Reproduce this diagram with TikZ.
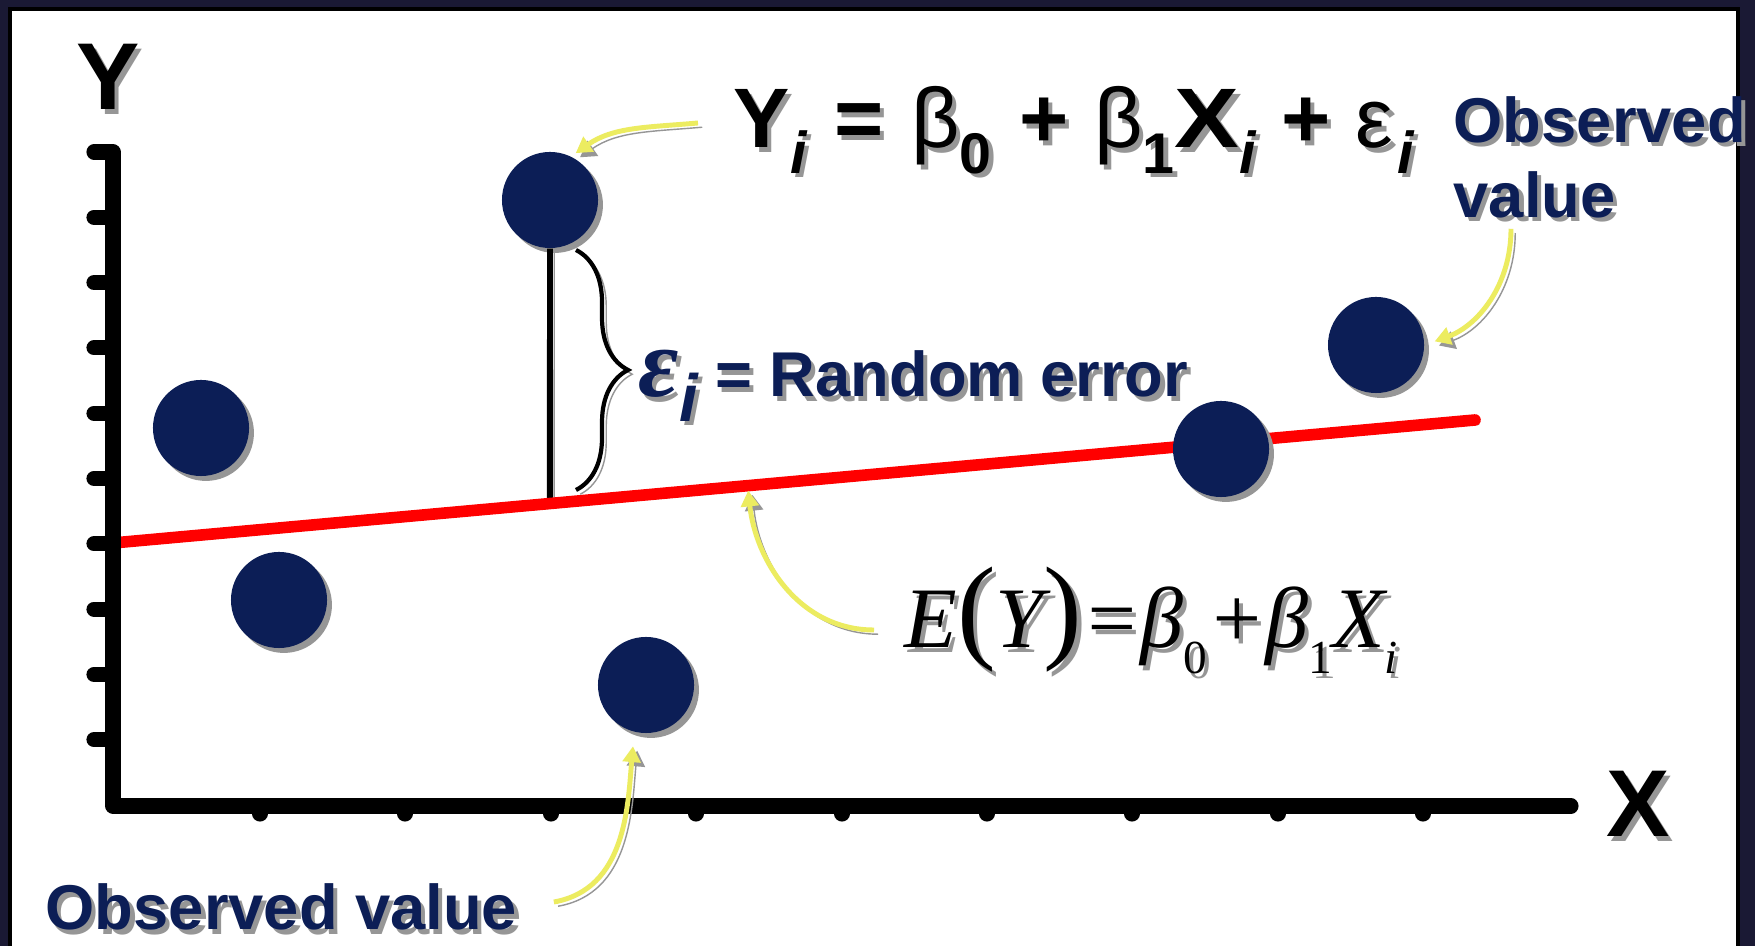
\documentclass[tikz,border=0pt]{standalone}
\usepackage{fontspec}
\setmainfont{Liberation Sans}
\newfontfamily\timesfont{Liberation Serif}
\usepackage{graphicx}
\usetikzlibrary{arrows.meta,decorations.pathreplacing,calc}

\definecolor{framenavy}{RGB}{26,25,52}
\definecolor{dotnavy}{RGB}{12,30,86}
\definecolor{castgray}{RGB}{150,150,150}
\definecolor{arrowyellow}{RGB}{236,236,96}
\definecolor{fitred}{RGB}{255,0,0}

% lowered, shrunk index
\newcommand{\lowsub}[2][0.6]{\raisebox{-0.3em}{\scalebox{#1}{#2}}}
\newcommand{\bigparen}[1]{{\fontsize{33}{33}\selectfont\upshape\mdseries#1}}
% text with a grey copy behind it
\newcommand{\castnode}[4][]{%
  \node[#1, text=castgray, xshift=1.2pt, yshift=-1.2pt] at (#3) {#4};
  \node[#1] (#2) at (#3) {#4};}

\begin{document}
\begin{tikzpicture}[x=0.01cm, y=0.01cm,
    cast/.style={preaction={draw=castgray, transform canvas={xshift=1.2pt, yshift=-1.2pt}}},
    dot/.style={circle, fill=dotnavy, minimum size=0.96cm, inner sep=0pt,
      preaction={fill=castgray, transform canvas={xshift=1.4pt, yshift=-1.4pt}}},
    axis/.style={line width=4.3pt, line cap=round, line join=round, cast},
    yarrow/.style={draw=arrowyellow, line width=1.4pt, -{Triangle[length=4.5pt, width=5pt]}, cast},
    txt/.style={inner sep=0pt}]

  \useasboundingbox (0,0) rectangle (1755,946);
  \fill[framenavy] (0,0) rectangle (1755,946);
  \draw[line width=1.15pt, fill=white] (10,937) rectangle (1738,-20);

  % fitted line
  \coordinate (fitL) at (113,403);
  \coordinate (fitR) at (1475,526);
  \coordinate (fitP) at ($(fitL)!0.466!(fitR)$);

  \node[dot] (d1) at (201,518) {};
  \node[dot] (d2) at (279,346) {};
  \node[dot] (d3) at (550,746) {};
  \node[dot] (d4) at (646,261) {};
  \node[dot] (d6) at (1376,601) {};

  \draw[cast, line width=1.7pt] (d3.south) -- (intersection of fitL--fitR and d3--d3.south);
  \draw[cast, draw=fitred, line width=3.3pt, line cap=round] (fitL) -- (fitR);

  % axes with ticks
  \draw[axis] (94,794) -- (113,794) -- (113,140) -- (1571,140)
    foreach \k in {1,...,9} {(113,{794-65.3*\k}) -- ++(-19,0)}
    foreach \tx in {260,405,551,696,842,987,1132,1278,1423} {(\tx,140) -- ++(0,-8)};

  \node[dot] (d5) at (1221,497) {};

  % error brace
  \coordinate (brT) at (576,696);
  \coordinate (brB) at (576,456);
  \draw[cast, line width=1.2pt, decorate, decoration={brace, amplitude=0.52cm, aspect=0.5}] (brT) -- (brB);

  \castnode[txt, anchor=base, font=\fontsize{27}{30}\selectfont\bfseries]{ylab}{108,836}{Y}
  \castnode[txt, anchor=base, font=\fontsize{27}{30}\selectfont\bfseries]{xlab}{1638,109}{X}

  \castnode[txt, anchor=base west, font=\fontsize{24}{27}\selectfont\bfseries]{eqY}{733,798}{Y\lowsub[0.7]{\itshape i}\hspace{0.33em}=\hspace{0.33em}{\mdseries β}\lowsub[0.68]{0}\hspace{0.33em}+\hspace{0.3em}{\mdseries β}\lowsub[0.68]{1}\scalebox{1.15}[1]{X}\lowsub[0.7]{\itshape i}\hspace{0.3em}+\hspace{0.3em}{\mdseries ε}\hspace{0.05em}\lowsub[0.7]{\itshape i}}

  \castnode[txt, anchor=base west, text=dotnavy, font=\fontsize{18}{20}\selectfont\bfseries]{errLab}{638,549}{{\timesfont\itshape\fontsize{28}{28}\selectfont ε}\raisebox{-7pt}{\fontsize{19}{19}\selectfont\itshape i} = Random error}

  \castnode[txt, anchor=base west, font=\fontsize{24.5}{28}\selectfont\timesfont\itshape]{eqE}{904,298}{E\bigparen(Y\bigparen)=β\lowsub[0.55]{\upshape 0}+β\lowsub[0.55]{\upshape 1}X\lowsub[0.55]{i}}

  \castnode[txt, anchor=north west, align=left, text=dotnavy, font=\fontsize{18}{21.3}\selectfont\bfseries]{obsR}{1453,850}{Observed\\value}
  \castnode[txt, anchor=base west, text=dotnavy, font=\fontsize{18}{21.3}\selectfont\bfseries]{obsL}{45,16}{Observed value}

  % pointers
  \draw[yarrow, shorten >=1.5pt] ([shift={(-35,25)}]eqY.base west) to[out=185, in=35] (d3.64);
  \draw[yarrow, shorten >=3pt] ([shift={(58,-10)}]obsR.south west) to[out=-90, in=20] (d6.east);
  \draw[yarrow, shorten >=1.4pt] ([shift={(-30,18)}]eqE.base west) to[out=180, in=-84] (fitP);
  \draw[yarrow, shorten >=4pt] ([shift={(36,28)}]obsL.base east) to[out=10, in=-95] (d4.256);
\end{tikzpicture}
\end{document}
